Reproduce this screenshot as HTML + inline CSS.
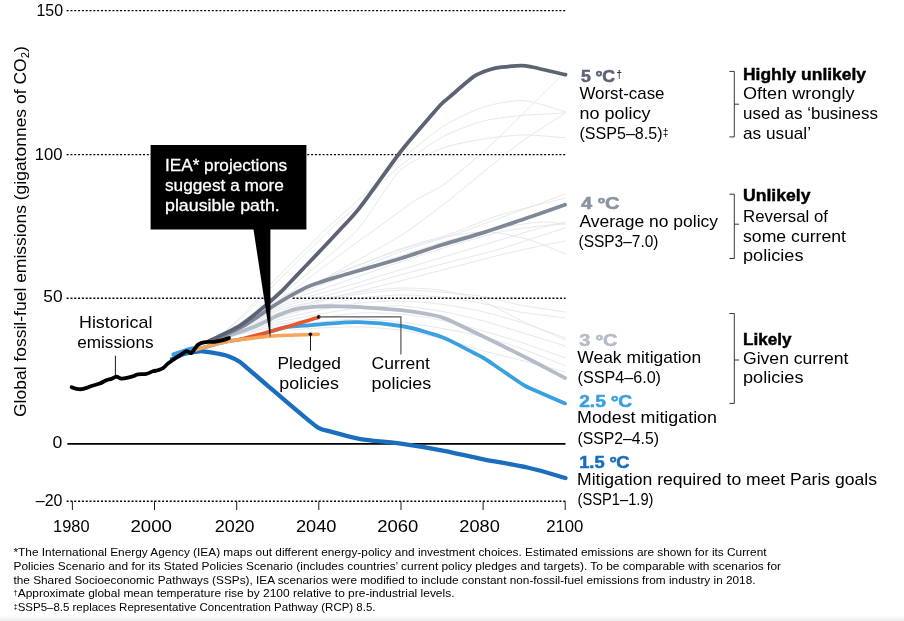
<!DOCTYPE html>
<html lang="en"><head><meta charset="utf-8"><title>Emissions scenarios</title>
<style>
html,body{margin:0;padding:0;background:#fff;}
body{width:904px;height:621px;overflow:hidden;}
svg{display:block;will-change:transform;}
text{font-family:"Liberation Sans",sans-serif;font-size:17px;fill:#000;}
.b{font-weight:700;stroke:#000;stroke-width:0.45px;}
.t{font-weight:700;font-size:15.6px;stroke-width:0.5px;}
.fn{font-size:11px;}
.w{fill:#fff;stroke:#fff;stroke-width:0.3px;}
.thin path{fill:none;stroke:#e4e7ec;stroke-width:0.95;}
.dot{fill:none;stroke:#000;stroke-width:1.4;stroke-dasharray:2 1.82;}
.ln{fill:none;stroke:#000;stroke-width:0.9;}
.br{fill:none;stroke:#222;stroke-width:0.9;}
.cv{fill:none;stroke-linecap:round;stroke-linejoin:round;}
</style></head><body>
<svg width="904" height="621" viewBox="0 0 904 621">
<defs><linearGradient id="bg" x1="0" y1="0" x2="0" y2="1"><stop offset="0" stop-color="#fff"/><stop offset="1" stop-color="#ebebeb"/></linearGradient></defs>
<rect x="0" y="0" width="904" height="621" fill="#fff"/>
<rect x="0" y="616" width="904" height="5" fill="url(#bg)"/>
<g class="thin">
<path d="M215.0,340.0C218.5,336.9 238.6,319.4 245.0,313.0C251.4,306.6 260.7,294.7 270.0,285.0C279.3,275.3 313.9,240.6 325.0,230.0C336.1,219.4 356.2,202.1 365.0,194.0C373.8,185.9 390.9,168.3 400.0,160.4C409.1,152.5 433.2,132.7 442.9,126.5C452.6,120.3 474.0,110.0 483.5,107.0C493.0,104.0 514.4,100.0 524.0,100.6C533.6,101.2 560.7,110.6 565.5,111.9"/>
<path d="M215.0,340.0C218.5,337.1 238.6,320.9 245.0,315.0C251.4,309.1 260.1,298.9 270.0,289.0C279.9,279.1 318.3,241.0 330.0,230.0C341.7,219.0 361.8,202.5 370.0,195.0C378.2,187.5 391.5,172.8 400.0,166.0C408.5,159.2 433.2,141.9 442.9,136.7C452.6,131.4 474.0,123.5 483.5,121.0C493.0,118.5 514.4,116.2 524.0,115.3C533.6,114.4 560.7,113.3 565.5,113.0"/>
<path d="M215.0,340.0C222.6,334.8 268.0,303.8 280.0,295.0C292.0,286.2 308.8,272.8 318.0,265.0C327.2,257.2 349.4,239.0 359.0,228.0C368.6,217.0 390.2,179.8 400.0,170.5C409.8,161.2 433.2,151.7 442.9,148.0C452.6,144.3 474.0,140.5 483.5,139.0C493.0,137.5 514.4,135.0 524.0,134.9C533.6,134.8 560.7,137.5 565.5,137.8"/>
<path d="M215.0,340.0C222.6,335.3 266.6,309.1 280.0,300.0C293.4,290.9 318.3,270.6 330.0,262.0C341.7,253.4 370.0,233.2 380.0,226.0C390.0,218.8 408.5,204.7 415.8,199.9C423.1,195.1 434.2,191.5 442.9,185.2C451.6,178.9 476.5,158.3 490.2,145.7C503.9,133.1 551.9,84.9 560.0,76.9"/>
<path d="M215.0,340.0C222.6,335.7 265.4,311.2 280.0,303.0C294.6,294.8 326.0,277.8 340.0,270.0C354.0,262.2 388.0,243.6 400.0,236.0C412.0,228.4 433.2,212.5 442.9,205.0C452.6,197.5 474.0,179.6 483.5,172.0C493.0,164.4 514.4,146.9 524.0,140.0C533.6,133.1 560.7,116.2 565.5,113.0"/>
<path d="M215.0,340.0C222.6,335.3 265.4,307.5 280.0,300.0C294.6,292.5 326.0,281.6 340.0,276.0C354.0,270.4 387.2,256.7 400.0,252.0C412.8,247.3 438.3,240.0 450.0,236.0C461.7,232.0 486.5,222.9 500.0,218.0C513.5,213.1 557.9,196.8 565.5,194.0"/>
<path d="M215.0,340.0C222.6,335.1 265.4,305.8 280.0,298.0C294.6,290.2 326.0,278.7 340.0,273.0C354.0,267.3 387.2,253.6 400.0,249.0C412.8,244.4 438.3,238.0 450.0,234.0C461.7,230.0 486.5,219.2 500.0,215.0C513.5,210.8 557.9,200.0 565.5,198.0"/>
<path d="M215.0,340.0C222.6,335.8 265.4,310.6 280.0,304.0C294.6,297.4 326.0,287.9 340.0,283.0C354.0,278.1 387.2,266.3 400.0,262.0C412.8,257.7 438.3,249.5 450.0,246.0C461.7,242.5 489.5,234.3 500.0,232.0C510.5,229.7 532.4,226.9 540.0,226.0C547.6,225.1 562.5,224.2 565.5,224.0"/>
<path d="M215.0,340.0C222.6,336.0 265.4,312.1 280.0,306.0C294.6,299.9 326.0,292.2 340.0,288.0C354.0,283.8 387.2,273.9 400.0,270.0C412.8,266.1 438.3,258.5 450.0,255.0C461.7,251.5 489.5,243.2 500.0,240.0C510.5,236.8 532.4,230.1 540.0,228.0C547.6,225.9 562.5,222.7 565.5,222.0"/>
<path d="M215.0,340.0C222.6,336.3 265.4,313.6 280.0,308.0C294.6,302.4 326.0,295.9 340.0,292.0C354.0,288.1 387.2,278.5 400.0,275.0C412.8,271.5 438.3,265.0 450.0,262.0C461.7,259.0 489.5,252.0 500.0,249.0C510.5,246.0 532.4,238.4 540.0,236.0C547.6,233.6 562.5,228.9 565.5,228.0"/>
<path d="M215.0,340.0C222.6,336.5 265.4,315.1 280.0,310.0C294.6,304.9 326.0,299.4 340.0,296.0C354.0,292.6 387.2,284.3 400.0,281.0C412.8,277.7 438.3,271.0 450.0,268.0C461.7,265.0 489.5,257.6 500.0,255.0C510.5,252.4 532.4,247.6 540.0,246.0C547.6,244.4 562.5,241.6 565.5,241.0"/>
<path d="M215.0,340.0C222.6,335.3 265.4,307.9 280.0,300.0C294.6,292.1 326.0,277.8 340.0,272.0C354.0,266.2 387.2,254.2 400.0,250.0C412.8,245.8 439.5,238.1 450.0,236.0C460.5,233.9 480.7,231.5 490.0,232.0C499.3,232.5 521.2,237.4 530.0,240.0C538.8,242.6 561.4,252.4 565.5,254.0"/>
<path d="M215.0,340.0C222.6,335.6 265.4,309.2 280.0,302.0C294.6,294.8 326.0,283.4 340.0,278.0C354.0,272.6 387.2,260.4 400.0,256.0C412.8,251.6 438.3,243.3 450.0,240.0C461.7,236.7 489.5,230.1 500.0,228.0C510.5,225.9 532.4,222.5 540.0,222.0C547.6,221.5 562.5,223.8 565.5,224.0"/>
<path d="M215.0,340.0C221.4,337.4 257.8,322.4 270.0,318.0C282.2,313.6 309.5,304.8 320.0,302.0C330.5,299.2 350.7,295.4 360.0,294.0C369.3,292.6 390.7,290.2 400.0,290.0C409.3,289.8 430.7,291.3 440.0,292.0C449.3,292.7 470.7,294.5 480.0,296.0C489.3,297.5 510.0,303.1 520.0,305.0C530.0,306.9 560.2,311.2 565.5,312.0"/>
<path d="M215.0,340.0C221.4,337.7 257.8,324.0 270.0,320.0C282.2,316.0 309.5,308.6 320.0,306.0C330.5,303.4 350.7,299.3 360.0,298.0C369.3,296.7 390.7,295.1 400.0,295.0C409.3,294.9 430.7,296.1 440.0,297.0C449.3,297.9 470.7,301.2 480.0,303.0C489.3,304.8 510.0,310.2 520.0,312.0C530.0,313.8 560.2,317.3 565.5,318.0"/>
<path d="M215.0,340.0C221.4,337.9 257.8,325.5 270.0,322.0C282.2,318.5 309.5,312.2 320.0,310.0C330.5,307.8 350.7,304.1 360.0,303.0C369.3,301.9 390.7,300.9 400.0,301.0C409.3,301.1 430.7,302.8 440.0,304.0C449.3,305.2 470.7,308.9 480.0,311.0C489.3,313.1 510.0,318.9 520.0,322.0C530.0,325.1 560.2,336.1 565.5,338.0"/>
<path d="M215.0,340.0C221.4,338.1 257.8,327.0 270.0,324.0C282.2,321.0 309.5,315.9 320.0,314.0C330.5,312.1 350.7,308.9 360.0,308.0C369.3,307.1 390.7,305.6 400.0,306.0C409.3,306.4 430.7,309.4 440.0,311.0C449.3,312.6 470.7,317.6 480.0,320.0C489.3,322.4 510.0,329.0 520.0,332.0C530.0,335.0 560.2,344.4 565.5,346.0"/>
<path d="M215.0,340.0C221.4,338.4 257.8,328.6 270.0,326.0C282.2,323.4 309.5,319.5 320.0,318.0C330.5,316.5 350.7,313.5 360.0,313.0C369.3,312.5 390.7,313.2 400.0,314.0C409.3,314.8 430.7,318.1 440.0,320.0C449.3,321.9 470.7,327.4 480.0,330.0C489.3,332.6 510.0,338.7 520.0,342.0C530.0,345.3 560.2,356.1 565.5,358.0"/>
<path d="M215.0,340.0C221.4,338.6 257.8,330.1 270.0,328.0C282.2,325.9 309.5,323.1 320.0,322.0C330.5,320.9 350.7,319.0 360.0,319.0C369.3,319.0 390.7,320.9 400.0,322.0C409.3,323.1 430.7,326.4 440.0,328.0C449.3,329.6 470.7,333.7 480.0,336.0C489.3,338.3 510.0,344.5 520.0,348.0C530.0,351.5 560.2,363.9 565.5,366.0"/>
<path d="M215.0,340.0C221.4,337.2 257.8,320.7 270.0,316.0C282.2,311.3 309.5,302.8 320.0,300.0C330.5,297.2 350.7,293.4 360.0,292.0C369.3,290.6 390.7,288.2 400.0,288.0C409.3,287.8 430.7,288.6 440.0,290.0C449.3,291.4 470.7,296.5 480.0,300.0C489.3,303.5 510.0,315.3 520.0,320.0C530.0,324.7 560.2,337.7 565.5,340.0"/>
<path d="M290.0,330.0C293.5,329.8 311.8,328.4 320.0,328.0C328.2,327.6 350.7,326.8 360.0,327.0C369.3,327.2 390.7,328.7 400.0,330.0C409.3,331.3 430.7,335.7 440.0,338.0C449.3,340.3 470.7,347.4 480.0,350.0C489.3,352.6 510.0,357.4 520.0,360.0C530.0,362.6 560.2,370.6 565.5,372.0"/>
</g>
<path class="dot" d="M66.6,10.6H565.5"/>
<path class="dot" d="M66.6,154.6H565.5"/>
<path class="dot" d="M66.6,298.2H270.5M292.7,298.2H565.5"/>
<path class="dot" d="M66.6,501.3H565.5"/>
<path class="ln" d="M72.4,501.3V510"/>
<path class="ln" d="M154.5,501.3V510"/>
<path class="ln" d="M236.7,501.3V510"/>
<path class="ln" d="M318.8,501.3V510"/>
<path class="ln" d="M401.0,501.3V510"/>
<path class="ln" d="M483.1,501.3V510"/>
<path class="ln" d="M565.2,501.3V510"/>
<path d="M67.4,443.9H565.5" stroke="#000" stroke-width="1.8" fill="none"/>
<path class="cv" d="M173.3,354.4C176.4,353.4 187.5,349.4 191.9,348.4C196.3,347.4 197.0,348.8 200.0,348.4C203.0,348.0 205.8,346.9 210.0,345.8C214.2,344.7 220.1,342.9 225.0,341.9C229.9,340.8 234.6,340.4 239.6,339.5C244.6,338.6 250.1,337.6 255.0,336.4C259.9,335.1 265.4,333.2 269.2,332.0C273.0,330.8 275.0,330.1 278.0,329.3C281.0,328.5 283.3,327.7 287.0,327.1C290.7,326.5 296.3,326.2 300.0,325.9C303.7,325.6 304.8,325.7 309.0,325.4C313.2,325.1 316.7,324.4 325.0,323.9C333.3,323.4 346.3,321.8 359.0,322.2C371.7,322.6 389.0,324.1 401.2,326.0C413.4,327.9 425.1,331.9 432.0,333.8C438.9,335.7 439.0,335.9 442.3,337.2C445.6,338.5 446.7,339.0 452.0,341.6C457.3,344.2 468.8,350.3 474.0,353.0C479.2,355.7 480.3,356.1 483.5,358.0C486.7,359.9 487.6,360.5 493.0,364.2C498.4,367.9 510.8,376.4 516.0,380.0C521.2,383.6 521.4,383.8 524.4,385.5C527.4,387.2 527.2,387.0 534.0,390.0C540.8,393.0 559.8,401.2 565.0,403.4" stroke="#3aa0df" stroke-width="3.8"/>
<path class="cv" d="M215.0,340.4C221.3,338.2 242.2,331.5 253.0,327.2C263.8,322.9 272.9,317.6 280.0,314.6C287.1,311.6 289.3,310.6 295.4,309.3C301.5,308.0 309.2,307.1 316.6,306.6C324.0,306.1 332.3,306.2 340.0,306.3C347.7,306.4 352.5,306.7 362.7,307.3C372.9,307.9 389.6,308.9 401.2,310.2C412.8,311.5 425.1,313.8 432.0,315.0C438.9,316.2 439.0,316.5 442.3,317.6C445.6,318.7 445.1,318.3 452.0,321.5C458.9,324.7 471.4,330.7 483.5,336.6C495.6,342.5 510.8,349.9 524.4,356.8C538.0,363.7 558.2,374.5 565.0,378.0" stroke="#b4bcc8" stroke-width="3.8"/>
<path class="cv" d="M213.0,340.4C218.3,337.8 234.7,330.9 245.0,325.0C255.3,319.1 265.2,311.1 275.0,305.0C284.8,298.9 296.5,292.3 303.8,288.6C311.1,284.9 313.3,284.7 318.9,282.7C324.5,280.7 330.8,278.9 337.6,276.8C344.5,274.7 349.4,273.4 360.0,270.3C370.6,267.2 387.5,262.4 401.2,258.2C414.9,253.9 428.2,249.2 442.3,244.8C456.4,240.4 471.8,236.3 485.7,231.9C499.6,227.5 512.3,223.0 525.5,218.5C538.7,214.0 558.4,207.1 565.0,204.8" stroke="#7f8896" stroke-width="3.8"/>
<path class="cv" d="M209.0,341.0C213.1,339.0 232.3,330.3 239.6,325.8C246.9,321.3 258.1,311.7 263.5,307.3C268.9,302.9 276.9,295.6 280.0,292.7C283.1,289.8 283.7,289.1 286.9,285.8C290.1,282.5 299.3,272.7 303.8,268.0C308.3,263.3 316.2,255.1 320.7,250.3C325.2,245.5 332.4,237.9 337.6,232.2C342.8,226.5 351.6,218.0 360.0,207.3C368.4,196.6 390.8,164.4 400.4,152.0C410.0,139.6 426.5,121.0 432.0,114.6C437.5,108.2 439.0,106.4 441.4,104.0C443.8,101.6 445.6,100.3 450.0,96.6C454.4,92.9 469.0,79.8 474.4,76.2C479.8,72.6 486.6,70.7 490.2,69.5C493.8,68.3 497.3,67.7 501.5,67.2C505.7,66.7 517.7,65.6 521.8,65.6C525.9,65.6 526.2,65.8 532.0,67.0C537.8,68.2 561.0,73.7 565.5,74.7" stroke="#5c6474" stroke-width="3.8"/>
<path class="cv" d="M172.0,359.0C174.3,358.1 181.4,354.8 186.0,353.5C190.6,352.2 196.8,351.6 199.8,351.3C202.8,351.0 200.9,351.1 203.8,351.5C206.7,351.9 212.8,352.7 217.0,353.5C221.2,354.3 225.2,355.0 229.0,356.4C232.8,357.8 236.3,359.5 239.6,361.7C242.9,363.9 244.1,365.4 249.0,369.6C253.9,373.8 262.3,381.1 269.0,386.8C275.7,392.5 282.4,398.3 289.0,403.9C295.6,409.5 304.4,416.9 308.9,420.6C313.4,424.3 314.0,424.8 316.0,426.2C318.0,427.6 318.7,428.0 321.0,428.9C323.3,429.8 323.4,429.7 330.0,431.4C336.6,433.1 349.1,437.1 360.6,439.1C372.1,441.1 385.1,441.4 399.0,443.4C412.9,445.3 429.9,448.1 444.0,450.8C458.1,453.5 469.6,456.5 483.5,459.3C497.4,462.1 513.7,464.4 527.4,467.5C541.1,470.6 559.1,476.2 565.5,478.0" stroke="#1a6ebd" stroke-width="4.3"/>
<path class="cv" d="M236.0,340.4C237.0,340.2 238.8,339.8 242.0,339.0C245.2,338.2 250.5,336.8 255.0,335.6C259.5,334.4 262.5,333.6 269.2,331.7C275.9,329.8 286.7,326.8 295.0,324.4C303.3,322.0 315.0,318.4 319.0,317.2" stroke="#e9562c" stroke-width="3.6" style="stroke-linecap:butt"/>
<path class="cv" d="M195.8,349.7C198.2,349.0 205.1,347.0 210.0,345.7C214.9,344.4 220.1,342.9 225.0,341.9C229.9,340.9 232.2,340.6 239.6,339.7C247.0,338.8 260.0,337.1 269.2,336.3C278.4,335.5 286.8,335.4 295.0,335.0C303.2,334.6 314.5,334.3 318.4,334.2" stroke="#f6a55c" stroke-width="3.6"/>
<path class="cv" d="M71.6,387.2C72.4,387.5 74.8,388.6 76.5,388.9C78.2,389.2 79.8,389.4 81.5,389.2C83.2,389.0 84.6,388.5 86.5,387.9C88.4,387.3 90.8,386.2 93.0,385.5C95.2,384.8 97.6,384.5 99.8,383.6C102.0,382.7 104.5,381.0 106.4,380.2C108.3,379.4 109.7,379.5 111.4,378.9C113.1,378.3 114.7,376.7 116.4,376.6C118.1,376.6 119.5,378.4 121.4,378.6C123.3,378.8 126.1,378.0 128.0,377.6C129.9,377.2 131.3,376.9 133.0,376.3C134.7,375.8 135.8,374.7 138.0,374.3C140.2,373.9 143.7,374.4 146.2,373.9C148.7,373.4 150.9,371.9 152.9,371.3C154.9,370.7 156.2,370.8 157.9,370.3C159.6,369.8 161.2,369.4 162.8,368.3C164.5,367.2 166.1,365.0 167.8,363.6C169.6,362.2 171.4,361.0 173.3,359.7C175.2,358.4 177.2,357.1 179.4,355.7C181.6,354.3 184.5,351.5 186.5,351.1C188.5,350.7 189.9,353.5 191.2,353.1C192.5,352.8 193.3,350.4 194.5,349.0C195.7,347.6 196.9,345.5 198.5,344.4C200.1,343.3 202.0,342.8 203.8,342.4C205.6,342.0 207.3,342.0 209.3,341.9C211.3,341.8 213.4,342.0 215.8,341.6C218.2,341.2 221.5,340.4 223.7,339.8C225.9,339.2 228.1,338.3 229.0,338.0" stroke="#000" stroke-width="3.8"/>
<circle cx="318.8" cy="316.9" r="1.8" fill="#000"/>
<path d="M318.7,316.9H400.9V354.5" fill="none" stroke="#555" stroke-width="1.2"/>
<circle cx="310.4" cy="334.3" r="1.8" fill="#000"/>
<path class="ln" d="M310.5,334.2V350.7"/>
<path class="ln" d="M115.4,355.7V376.2"/>
<path d="M150.6,145H306.4V229.5H270.4V335L270.1,338L253.5,229.5H150.6Z" fill="#000"/>
<text x="165" y="170.9" class="w" textLength="122.1" lengthAdjust="spacingAndGlyphs">IEA* projections</text>
<text x="165" y="190.8" class="w" textLength="118.8" lengthAdjust="spacingAndGlyphs">suggest a more</text>
<text x="165" y="210.8" class="w" textLength="114.8" lengthAdjust="spacingAndGlyphs">plausible path.</text>
<text x="36.5" y="15.5" textLength="26.5" lengthAdjust="spacingAndGlyphs">150</text>
<text x="34.8" y="160.2" textLength="27.8" lengthAdjust="spacingAndGlyphs">100</text>
<text x="43.3" y="302" textLength="19.3" lengthAdjust="spacingAndGlyphs">50</text>
<text x="52.6" y="447.5" textLength="9.8" lengthAdjust="spacingAndGlyphs">0</text>
<text x="35.8" y="506.3" textLength="26.6" lengthAdjust="spacingAndGlyphs">–20</text>
<text x="53.1" y="532" textLength="36.5" lengthAdjust="spacingAndGlyphs">1980</text>
<text x="130.4" y="532" textLength="41.5" lengthAdjust="spacingAndGlyphs">2000</text>
<text x="214.7" y="532" textLength="39.9" lengthAdjust="spacingAndGlyphs">2020</text>
<text x="296" y="532" textLength="40.5" lengthAdjust="spacingAndGlyphs">2040</text>
<text x="377.3" y="532" textLength="41.1" lengthAdjust="spacingAndGlyphs">2060</text>
<text x="459.3" y="532" textLength="40.5" lengthAdjust="spacingAndGlyphs">2080</text>
<text x="546.2" y="532" textLength="37.2" lengthAdjust="spacingAndGlyphs">2100</text>
<text transform="translate(26,417) rotate(-90)" textLength="370.8" lengthAdjust="spacingAndGlyphs">Global fossil-fuel emissions (gigatonnes of CO<tspan font-size="11" dy="3">2</tspan><tspan dy="-3">)</tspan></text>
<text x="79" y="328.4" textLength="73.4" lengthAdjust="spacingAndGlyphs">Historical</text>
<text x="77.2" y="348" textLength="76.4" lengthAdjust="spacingAndGlyphs">emissions</text>
<text x="277.4" y="368.8" textLength="63.6" lengthAdjust="spacingAndGlyphs">Pledged</text>
<text x="279.3" y="388.6" textLength="59.6" lengthAdjust="spacingAndGlyphs">policies</text>
<text x="371.5" y="368.7" textLength="58.5" lengthAdjust="spacingAndGlyphs">Current</text>
<text x="371.5" y="388.6" textLength="59.8" lengthAdjust="spacingAndGlyphs">policies</text>
<text x="581" y="81.6" class="t" style="fill:#5c6474;stroke:#5c6474" textLength="34" lengthAdjust="spacingAndGlyphs">5 ºC</text>
<text x="616.2" y="78.4" style="font-size:10.5px">†</text>
<text x="579.5" y="99" textLength="85" lengthAdjust="spacingAndGlyphs">Worst-case</text>
<text x="579.5" y="119" textLength="71" lengthAdjust="spacingAndGlyphs">no policy</text>
<text x="579.5" y="139" textLength="83" lengthAdjust="spacingAndGlyphs">(SSP5–8.5)</text>
<text x="662.8" y="136" style="font-size:10.5px">‡</text>
<text x="581" y="208.6" class="t" style="fill:#8a93a1;stroke:#8a93a1" textLength="38.5" lengthAdjust="spacingAndGlyphs">4 ºC</text>
<text x="579.5" y="226.5" textLength="138.5" lengthAdjust="spacingAndGlyphs">Average no policy</text>
<text x="578.5" y="247" textLength="80" lengthAdjust="spacingAndGlyphs">(SSP3–7.0)</text>
<text x="579.2" y="345.8" class="t" style="fill:#b4bcc8;stroke:#b4bcc8" textLength="38.2" lengthAdjust="spacingAndGlyphs">3 ºC</text>
<text x="577.3" y="362.8" textLength="123.8" lengthAdjust="spacingAndGlyphs">Weak mitigation</text>
<text x="577.5" y="382.5" textLength="83.5" lengthAdjust="spacingAndGlyphs">(SSP4–6.0)</text>
<text x="579.2" y="406.8" class="t" style="fill:#3aa0df;stroke:#3aa0df" textLength="52.8" lengthAdjust="spacingAndGlyphs">2.5 ºC</text>
<text x="577" y="422.5" textLength="140" lengthAdjust="spacingAndGlyphs">Modest mitigation</text>
<text x="577.5" y="443.5" textLength="81.5" lengthAdjust="spacingAndGlyphs">(SSP2–4.5)</text>
<text x="579.2" y="467.8" class="t" style="fill:#1a6ebd;stroke:#1a6ebd" textLength="50.4" lengthAdjust="spacingAndGlyphs">1.5 ºC</text>
<text x="577" y="485" textLength="300" lengthAdjust="spacingAndGlyphs">Mitigation required to meet Paris goals</text>
<text x="577.5" y="504.8" textLength="76" lengthAdjust="spacingAndGlyphs">(SSP1–1.9)</text>
<path class="br" d="M729.4,71.4H734.3V136.9H729.4M734.3,104.2H739"/>
<path class="br" d="M729.4,194.2H734.3V258.5H729.4M734.3,224.2H739"/>
<path class="br" d="M729.4,313.5H734.3V403.4H729.4M734.3,360H739"/>
<text x="743" y="80" class="b" textLength="123" lengthAdjust="spacingAndGlyphs">Highly unlikely</text>
<text x="743" y="99" textLength="111.5" lengthAdjust="spacingAndGlyphs">Often wrongly</text>
<text x="743" y="119" textLength="135" lengthAdjust="spacingAndGlyphs">used as ‘business</text>
<text x="743" y="139" textLength="68" lengthAdjust="spacingAndGlyphs">as usual’</text>
<text x="743" y="200.8" class="b" textLength="67.5" lengthAdjust="spacingAndGlyphs">Unlikely</text>
<text x="743" y="221.5" textLength="85" lengthAdjust="spacingAndGlyphs">Reversal of</text>
<text x="743" y="241.5" textLength="103" lengthAdjust="spacingAndGlyphs">some current</text>
<text x="743" y="261" textLength="60.5" lengthAdjust="spacingAndGlyphs">policies</text>
<text x="743" y="345" class="b" textLength="48.5" lengthAdjust="spacingAndGlyphs">Likely</text>
<text x="743" y="363.5" textLength="105.5" lengthAdjust="spacingAndGlyphs">Given current</text>
<text x="743" y="382.5" textLength="60.5" lengthAdjust="spacingAndGlyphs">policies</text>
<text x="13.5" y="555.5" class="fn" textLength="753" lengthAdjust="spacingAndGlyphs">*The International Energy Agency (IEA) maps out different energy-policy and investment choices. Estimated emissions are shown for its Current</text>
<text x="13.5" y="569.6" class="fn" textLength="767.5" lengthAdjust="spacingAndGlyphs">Policies Scenario and for its Stated Policies Scenario (includes countries’ current policy pledges and targets). To be comparable with scenarios for</text>
<text x="13.5" y="583.6" class="fn" textLength="742" lengthAdjust="spacingAndGlyphs">the Shared Socioeconomic Pathways (SSPs), IEA scenarios were modified to include constant non-fossil-fuel emissions from industry in 2018.</text>
<text x="13.6" y="594.6" style="font-size:7.5px">†</text>
<text x="17.7" y="597.2" class="fn" textLength="436.8" lengthAdjust="spacingAndGlyphs">Approximate global mean temperature rise by 2100 relative to pre-industrial levels.</text>
<text x="13.6" y="608.6" style="font-size:7.5px">‡</text>
<text x="17.7" y="611.2" class="fn" textLength="357.8" lengthAdjust="spacingAndGlyphs">SSP5–8.5 replaces Representative Concentration Pathway (RCP) 8.5.</text>
</svg></body></html>
